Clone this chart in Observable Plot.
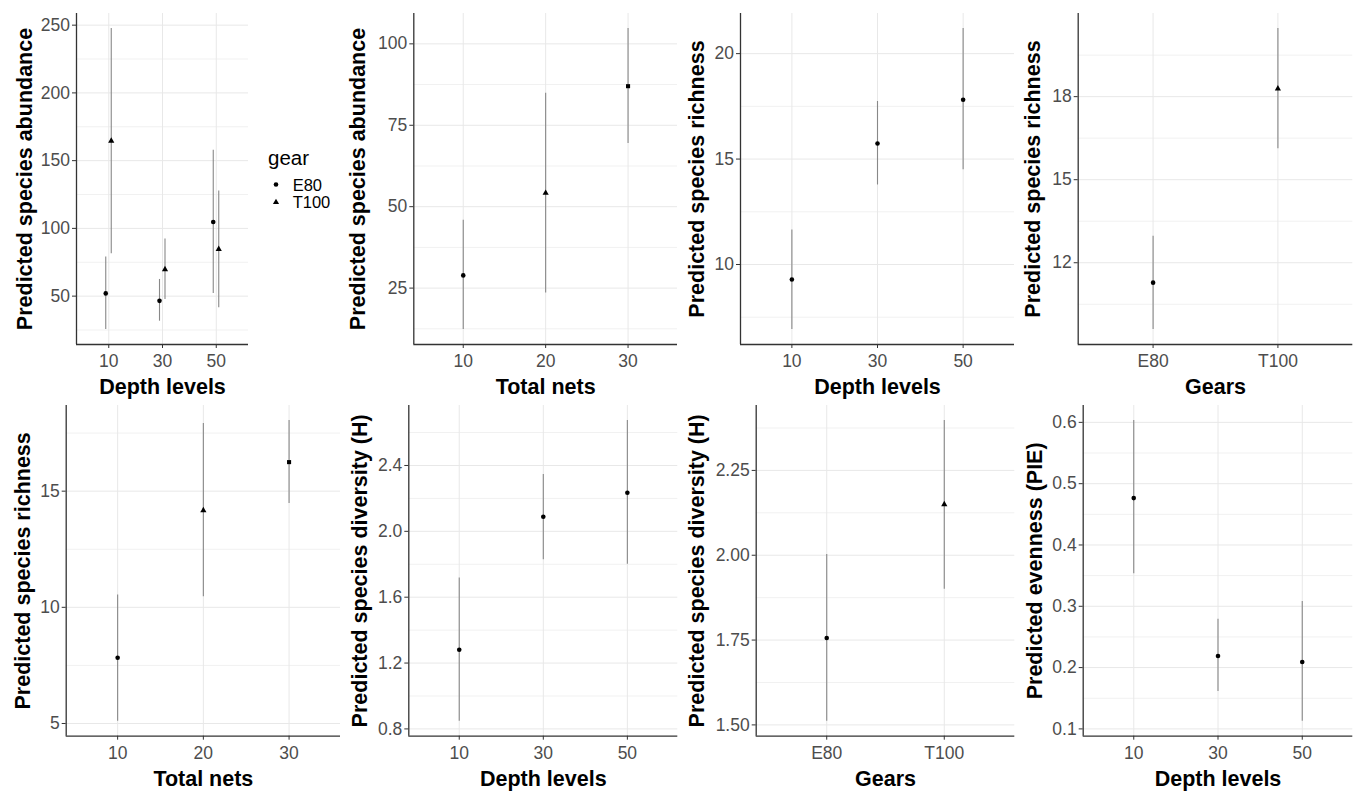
<!DOCTYPE html>
<html><head><meta charset="utf-8">
<script src="https://cdn.jsdelivr.net/npm/d3@7"></script>
<script src="https://cdn.jsdelivr.net/npm/@observablehq/plot@0.6"></script>
<style>
body{margin:0;background:#fff;font-family:"Liberation Sans",Arial,sans-serif;}
#wrap{position:relative;width:1355px;height:791px;overflow:hidden;background:#fff;}
.panel{position:absolute;}
.panel svg{overflow:visible;}
</style></head><body><div id="wrap"></div>
<script>
// ---------- data ----------
const depthLevels = ["10","30","50"];
const netLevels = ["10","20","30"];
const gearLevels = ["E80","T100"];

// Panel 1: abundance by depth x gear
const p1Depth = ["10","10","30","30","50","50"];
const p1Gear  = ["E80","T100","E80","T100","E80","T100"];
const p1Fit = [52.0, 164.6, 46.5, 69.7, 104.7, 84.7];
const p1Lo  = [25.4, 81.3, 31.5, 47.6, 52.0, 41.4];
const p1Hi  = [78.8, 247.5, 62.3, 92.1, 157.7, 127.6];

// Panel 2: abundance by total nets
const p2Fit = [28.9, 54.2, 87.0];
const p2Lo  = [12.3, 23.5, 69.4];
const p2Hi  = [45.8, 84.8, 104.7];

// Panel 3: richness by depth
const p3Fit = [9.29, 15.74, 17.81];
const p3Lo  = [6.92, 13.77, 14.49];
const p3Hi  = [11.64, 17.73, 21.19];

// Panel 4: richness by gear
const p4Fit = [11.28, 18.29];
const p4Lo  = [9.59, 16.12];
const p4Hi  = [12.96, 20.46];

// Panel 5: richness by total nets
const p5Fit = [7.83, 14.17, 16.25];
const p5Lo  = [5.10, 10.46, 14.47];
const p5Hi  = [10.53, 17.91, 18.04];

// Panel 6: diversity (H) by depth
const p6Fit = [1.281, 2.089, 2.234];
const p6Lo  = [0.847, 1.828, 1.800];
const p6Hi  = [1.717, 2.345, 2.673];

// Panel 7: diversity (H) by gear
const p7Fit = [1.756, 2.150];
const p7Lo  = [1.511, 1.900];
const p7Hi  = [2.002, 2.397];

// Panel 8: evenness (PIE) by depth
const p8Fit = [0.4765, 0.219, 0.209];
const p8Lo  = [0.353, 0.161, 0.1126];
const p8Hi  = [0.603, 0.279, 0.308];

// tick values
const p1Major = [50,100,150,200,250], p1Minor = [25,75,125,175,225];
const p2Major = [25,50,75,100], p2Minor = [12.5,37.5,62.5,87.5];
const p3Major = [10,15,20], p3Minor = [7.5,12.5,17.5];
const p4Major = [12,15,18], p4Minor = [10.5,13.5,16.5,19.5];
const p5Major = [5,10,15], p5Minor = [7.5,12.5,17.5];
const p6Major = [0.8,1.2,1.6,2.0,2.4], p6Minor = [1.0,1.4,1.8,2.2,2.6];
const p7Major = [1.5,1.75,2.0,2.25], p7Minor = [1.625,1.875,2.125,2.375];
const p8Major = [0.1,0.2,0.3,0.4,0.5,0.6], p8Minor = [0.15,0.25,0.35,0.45,0.55];

// ---------- drawing ----------
const FONT = "Liberation Sans, Arial, sans-serif";
const TICK_FS = 17.5;
const wrap = document.getElementById("wrap");

function panel(cfg) {
  const n = cfg.cats.length;
  const rows = cfg.fit.map((v, i) => ({
    xi: cfg.cats.indexOf(cfg.catOf[i]),
    grp: cfg.groupOf[i],
    fit: v, lo: cfg.lo[i], hi: cfg.hi[i]
  }));
  const ymin = d3.min(rows, d => d.lo), ymax = d3.max(rows, d => d.hi);
  const pad = (ymax - ymin) * 0.05;
  const yDom = [ymin - pad, ymax + pad];
  const xDom = [-0.6, n - 1 + 0.6];
  const idx = d3.range(n);
  const marks = [
    Plot.gridY({ticks: cfg.minor, stroke: "#f1f1f1", strokeOpacity: 1, strokeWidth: 1}),
    Plot.gridY({ticks: cfg.major, stroke: "#e8e8e8", strokeOpacity: 1, strokeWidth: 1}),
    Plot.gridX({ticks: idx, stroke: "#e8e8e8", strokeOpacity: 1, strokeWidth: 1})
  ];
  for (const g of cfg.symDomain) {
    const off = cfg.dodge ? cfg.dodge[g] : 0;
    marks.push(Plot.ruleX(rows, {filter: d => d.grp === g, x: "xi", y1: "lo", y2: "hi",
      stroke: "#888888", strokeWidth: 1.1, dx: off}));
    marks.push(Plot.dot(rows, {filter: d => d.grp === g, x: "xi", y: "fit", symbol: "grp",
      fill: "black", stroke: "none", r: 2.3, dx: off}));
  }
  marks.push(
    Plot.axisY({ticks: cfg.major, tickFormat: cfg.fmt, tickSize: 4, tickPadding: 2.5,
      fontSize: TICK_FS, fill: "#4d4d4d", stroke: "#333", label: null}),
    Plot.axisX({ticks: idx, tickFormat: i => cfg.cats[i], tickSize: 4, tickPadding: 6.5,
      fontSize: TICK_FS, fill: "#4d4d4d", stroke: "#333", label: null}),
    Plot.ruleX([xDom[0]], {stroke: "#333", strokeWidth: 1.3}),
    Plot.ruleY([yDom[0]], {stroke: "#333", strokeWidth: 1.3}),
    Plot.text([cfg.yTitle], {text: d => d, frameAnchor: "left", dx: cfg.yTitleX - cfg.mL,
      rotate: -90, fontSize: 21.5, fontWeight: "bold", fill: "black",
      textAnchor: "middle", lineAnchor: "middle", fontFamily: FONT}),
    Plot.text([cfg.xTitle], {text: d => d, frameAnchor: "bottom", dy: cfg.xTitleDy,
      fontSize: 21.5, fontWeight: "bold", fill: "black",
      textAnchor: "middle", lineAnchor: "middle", fontFamily: FONT})
  );
  const chart = Plot.plot({
    width: cfg.width, height: cfg.height,
    marginLeft: cfg.mL, marginRight: cfg.mR, marginTop: cfg.mT, marginBottom: cfg.mB,
    style: {fontFamily: FONT, background: "transparent", overflow: "visible"},
    x: {type: "linear", domain: xDom, axis: null},
    y: {type: "linear", domain: yDom, axis: null},
    symbol: {domain: cfg.symDomain, range: cfg.symRange},
    marks
  });
  const div = document.createElement("div");
  div.className = "panel";
  div.style.left = cfg.left + "px";
  div.style.top = cfg.top + "px";
  div.appendChild(chart);
  wrap.appendChild(div);
}

const row1 = {top: 0, height: 395, mT: 13, mB: 51, xTitleDy: 43};
const row2 = {top: 395, height: 396, mT: 10, mB: 55.3, xTitleDy: 42.5};
const int0 = d3.format("d");

panel({...row1, left: 0, width: 250, mL: 76, mR: 2, yTitleX: 25,
  cats: depthLevels, catOf: p1Depth, groupOf: p1Gear, fit: p1Fit, lo: p1Lo, hi: p1Hi,
  symDomain: gearLevels, symRange: ["circle","triangle"], dodge: {E80: -3, T100: 2.5},
  major: p1Major, minor: p1Minor, fmt: int0,
  yTitle: "Predicted species abundance", xTitle: "Depth levels"});

panel({...row1, left: 340, width: 340, mL: 73.3, mR: 3, yTitleX: 17.5,
  cats: netLevels, catOf: netLevels, groupOf: netLevels, fit: p2Fit, lo: p2Lo, hi: p2Hi,
  symDomain: netLevels, symRange: ["circle","triangle","square"],
  major: p2Major, minor: p2Minor, fmt: int0,
  yTitle: "Predicted species abundance", xTitle: "Total nets"});

panel({...row1, left: 680, width: 335, mL: 60, mR: 1, yTitleX: 16.5,
  cats: depthLevels, catOf: depthLevels, groupOf: depthLevels, fit: p3Fit, lo: p3Lo, hi: p3Hi,
  symDomain: depthLevels, symRange: ["circle","circle","circle"],
  major: p3Major, minor: p3Minor, fmt: int0,
  yTitle: "Predicted species richness", xTitle: "Depth levels"});

panel({...row1, left: 1015, width: 340, mL: 62.7, mR: 2.7, yTitleX: 17.5,
  cats: gearLevels, catOf: gearLevels, groupOf: gearLevels, fit: p4Fit, lo: p4Lo, hi: p4Hi,
  symDomain: gearLevels, symRange: ["circle","triangle"],
  major: p4Major, minor: p4Minor, fmt: int0,
  yTitle: "Predicted species richness", xTitle: "Gears"});

panel({...row2, left: 0, width: 342, mL: 65.7, mR: 2, yTitleX: 22.5,
  cats: netLevels, catOf: netLevels, groupOf: netLevels, fit: p5Fit, lo: p5Lo, hi: p5Hi,
  symDomain: netLevels, symRange: ["circle","triangle","square"],
  major: p5Major, minor: p5Minor, fmt: int0,
  yTitle: "Predicted species richness", xTitle: "Total nets"});

panel({...row2, left: 340, width: 340, mL: 68.3, mR: 2.7, yTitleX: 20,
  cats: depthLevels, catOf: depthLevels, groupOf: depthLevels, fit: p6Fit, lo: p6Lo, hi: p6Hi,
  symDomain: depthLevels, symRange: ["circle","circle","circle"],
  major: p6Major, minor: p6Minor, fmt: d3.format(".1f"),
  yTitle: "Predicted species diversity (H)", xTitle: "Depth levels"});

panel({...row2, left: 680, width: 335, mL: 75.7, mR: 0.7, yTitleX: 16.7,
  cats: gearLevels, catOf: gearLevels, groupOf: gearLevels, fit: p7Fit, lo: p7Lo, hi: p7Hi,
  symDomain: gearLevels, symRange: ["circle","triangle"],
  major: p7Major, minor: p7Minor, fmt: d3.format(".2f"),
  yTitle: "Predicted species diversity (H)", xTitle: "Gears"});

panel({...row2, left: 1015, width: 340, mL: 67.7, mR: 2.7, yTitleX: 20,
  cats: depthLevels, catOf: depthLevels, groupOf: depthLevels, fit: p8Fit, lo: p8Lo, hi: p8Hi,
  symDomain: depthLevels, symRange: ["circle","circle","circle"],
  major: p8Major, minor: p8Minor, fmt: d3.format(".1f"),
  yTitle: "Predicted evenness (PIE)", xTitle: "Depth levels"});

// ---------- legend ----------
const legendTitle = "gear";
const leg = d3.select(wrap).append("svg")
  .attr("width", 85).attr("height", 80)
  .style("position", "absolute").style("left", "255px").style("top", "140px")
  .style("font-family", FONT);
leg.append("text").attr("x", 13).attr("y", 25).attr("font-size", 20.5).attr("fill", "black").text(legendTitle);
const legSyms = [d3.symbolCircle, d3.symbolTriangle];
gearLevels.forEach((g, i) => {
  const cy = 44.5 + i * 17.8;
  leg.append("path").attr("d", d3.symbol(legSyms[i], Math.PI * 2.3 * 2.3)())
    .attr("transform", `translate(21,${cy})`).attr("fill", "black");
  leg.append("text").attr("x", 37.7).attr("y", cy + 6).attr("font-size", 16.5).attr("fill", "black").text(g);
});
</script>
</body></html>
